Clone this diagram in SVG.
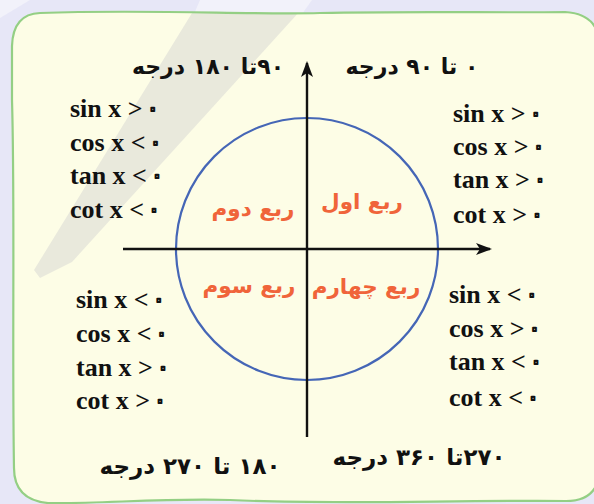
<svg xmlns="http://www.w3.org/2000/svg" width="594" height="504" viewBox="0 0 594 504">
<style>
.trig{font-family:"Liberation Serif","DejaVu Sans",serif;font-weight:bold;font-size:26px;fill:#111}
.z{font-family:"DejaVu Sans",sans-serif;font-size:26px;font-weight:normal;fill:none;stroke:#111;stroke-width:2;stroke-linejoin:round}
.head{font-family:"DejaVu Sans",sans-serif;font-weight:bold;font-size:22px;fill:#111}
.hb{font-size:23px}
.quad{font-family:"DejaVu Sans",sans-serif;font-weight:bold;font-size:21.5px;fill:#f0643a}
.axis{stroke:#111;stroke-width:2.4;fill:none}
</style>
<defs>
<marker id="arr" viewBox="0 0 16 12" refX="14" refY="6" markerWidth="16" markerHeight="12" markerUnits="userSpaceOnUse" orient="auto">
<path d="M0,0 L16,6 L0,12 L4,6 Z" fill="#111"/>
</marker>
<path id="blob" d="M40,13 C150,9 250,15 320,13 C420,11 500,13 565,12 Q600,14 600,48 L600,470 Q598,501 566,501 C450,500 330,505 230,500 C160,498 100,504 48,503 Q14,500 14,468 C12,350 15,200 12,100 L12,46 Q13,14 40,13 Z"/>
<clipPath id="blobclip"><use href="#blob"/></clipPath>
</defs>
<rect width="594" height="504" fill="#e7e7f7"/>
<polygon points="0,18 0,0 30,0" fill="#f2f2fa"/>
<polygon points="200,0 312,0 302,14 194,14" fill="#f2f2fa"/>
<g id="panel">
<use href="#blob" fill="#fdfde6"/>
<polygon clip-path="url(#blobclip)" points="200,0 310,0 72,262 40,278 34,270" fill="#e9e9dc"/>
<use href="#blob" fill="none" stroke="#94cf84" stroke-width="2.2"/>
</g>
<g id="circle">
<circle cx="307" cy="249" r="131" fill="none" stroke="#4566b6" stroke-width="2.2"/>
</g>
<g id="connectors">
<line class="axis" x1="307" y1="437" x2="307" y2="63" marker-end="url(#arr)"/>
<line class="axis" x1="123" y1="249" x2="490" y2="249" marker-end="url(#arr)"/>
</g>
<g id="q1">
<text class="head" x="412" y="74" text-anchor="middle" direction="rtl">۰ تا ۹۰ درجه</text>
<text class="quad" x="362" y="209" text-anchor="middle" direction="rtl">ربع اول</text>
<text class="trig" x="453" y="122">sin x &gt;<tspan class="z" dx="3">۰</tspan></text>
<text class="trig" x="453" y="155">cos x &gt;<tspan class="z" dx="3">۰</tspan></text>
<text class="trig" x="453" y="188">tan x &gt;<tspan class="z" dx="3">۰</tspan></text>
<text class="trig" x="453" y="223">cot x &gt;<tspan class="z" dx="3">۰</tspan></text>
</g>
<g id="q2">
<text class="head" x="208" y="74" text-anchor="middle" direction="rtl">۹۰تا ۱۸۰ درجه</text>
<text class="quad" x="253" y="216" text-anchor="middle" direction="rtl">ربع دوم</text>
<text class="trig" x="70" y="117">sin x &gt;<tspan class="z" dx="3">۰</tspan></text>
<text class="trig" x="70" y="151">cos x &lt;<tspan class="z" dx="3">۰</tspan></text>
<text class="trig" x="70" y="184">tan x &lt;<tspan class="z" dx="3">۰</tspan></text>
<text class="trig" x="70" y="218">cot x &lt;<tspan class="z" dx="3">۰</tspan></text>
</g>
<g id="q3">
<text class="head hb" x="190" y="474" text-anchor="middle" direction="rtl">۱۸۰ تا ۲۷۰ درجه</text>
<text class="quad" x="249" y="293" text-anchor="middle" direction="rtl">ربع سوم</text>
<text class="trig" x="76" y="308">sin x &lt;<tspan class="z" dx="3">۰</tspan></text>
<text class="trig" x="76" y="342">cos x &lt;<tspan class="z" dx="3">۰</tspan></text>
<text class="trig" x="76" y="376">tan x &gt;<tspan class="z" dx="3">۰</tspan></text>
<text class="trig" x="76" y="409">cot x &gt;<tspan class="z" dx="3">۰</tspan></text>
</g>
<g id="q4">
<text class="head hb" x="419" y="465" text-anchor="middle" direction="rtl">۲۷۰تا ۳۶۰ درجه</text>
<text class="quad" x="366" y="294" text-anchor="middle" direction="rtl">ربع چهارم</text>
<text class="trig" x="449" y="303">sin x &lt;<tspan class="z" dx="3">۰</tspan></text>
<text class="trig" x="449" y="337">cos x &gt;<tspan class="z" dx="3">۰</tspan></text>
<text class="trig" x="449" y="370">tan x &lt;<tspan class="z" dx="3">۰</tspan></text>
<text class="trig" x="449" y="406">cot x &lt;<tspan class="z" dx="3">۰</tspan></text>
</g>
</svg>
